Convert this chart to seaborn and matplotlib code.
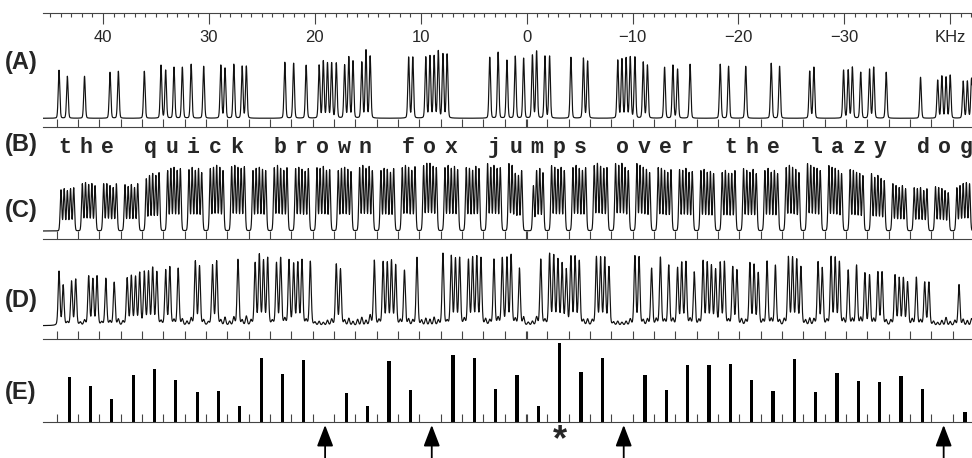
import matplotlib
matplotlib.use('Agg')
import matplotlib.pyplot as plt
import seaborn as sb
import numpy as np
import pandas as pd

message = "the quick brown fox jumps over the lazy dog"

# peak heights per character cell, 5 frequency slots per cell (high kHz -> low kHz)
heights_A = [
    [48, 0, 42, 0, 0], [0, 42, 0, 0, 0], [0, 0, 46, 0, 47], [0, 0, 0, 0, 0],
    [47, 0, 0, 0, 53], [48, 0, 51, 0, 51], [0, 54, 0, 0, 52], [0, 0, 0, 53, 50],
    [0, 54, 0, 52, 52], [0, 0, 0, 0, 0], [0, 0, 0, 56, 0], [55, 0, 0, 53, 0],
    [0, 53, 57, 55, 55], [55, 0, 53, 61, 57], [0, 56, 68, 62, 0], [0, 0, 0, 0, 0],
    [0, 0, 61, 61, 0], [0, 61, 62, 62, 67], [64, 64, 0, 0, 0], [0, 0, 0, 0, 0],
    [0, 61, 0, 66, 0], [58, 0, 62, 0, 60], [0, 63, 67, 0, 62], [62, 0, 0, 0, 0],
    [61, 0, 0, 60, 57], [0, 0, 0, 0, 0], [0, 58, 59, 60, 61], [61, 0, 56, 53, 0],
    [0, 0, 51, 0, 53], [49, 0, 0, 54, 0], [0, 0, 0, 0, 0], [54, 0, 52, 0, 0],
    [0, 52, 0, 0, 0], [0, 0, 55, 0, 52], [0, 0, 0, 0, 0], [0, 47, 51, 0, 0],
    [0, 0, 0, 0, 48], [48, 51, 0, 46, 0], [49, 51, 0, 0, 46], [0, 0, 0, 0, 0],
    [0, 0, 41, 0, 0], [0, 38, 42, 41, 43], [0, 0, 37, 37, 40],
]
heights_C = [
    [41, 42, 40, 42, 43], [47, 48, 46, 47, 45], [47, 47, 45, 43, 47], [46, 44, 46, 43, 47],
    [52, 55, 57, 55, 58], [60, 62, 63, 60, 62], [61, 63, 60, 62, 58], [62, 63, 65, 63, 60],
    [64, 65, 63, 62, 64], [60, 62, 63, 61, 60], [63, 65, 62, 60, 63], [62, 63, 61, 59, 62],
    [63, 62, 64, 60, 61], [60, 62, 63, 61, 59], [63, 65, 62, 64, 60], [60, 62, 61, 58, 62],
    [63, 65, 63, 60, 64], [65, 67, 67, 64, 63], [63, 65, 62, 64, 61], [63, 62, 60, 64, 62],
    [67, 63, 65, 62, 63], [67, 65, 57, 55, 60], [0, 45, 60, 62, 58], [65, 63, 61, 63, 60],
    [63, 65, 62, 60, 63], [65, 67, 64, 62, 63], [67, 65, 67, 63, 60], [67, 65, 63, 61, 58],
    [63, 62, 60, 58, 61], [61, 60, 62, 58, 59], [60, 61, 58, 59, 57], [58, 60, 57, 57, 60],
    [62, 60, 58, 61, 57], [60, 62, 58, 60, 57], [63, 65, 63, 61, 58], [67, 65, 63, 62, 60],
    [65, 63, 62, 60, 57], [61, 60, 58, 57, 55], [57, 53, 55, 52, 50], [47, 45, 43, 45, 42],
    [43, 42, 43, 40, 42], [44, 43, 42, 40, 38], [43, 45, 47, 48, 47],
]
heights_D = [
    [54, 40, 3, 44, 46], [3, 5, 49, 46, 49], [3, 47, 4, 43, 6], [4, 47, 49, 48, 52],
    [53, 53, 57, 53, 4], [55, 58, 5, 57, 6], [4, 7, 64, 59, 5], [3, 60, 64, 5, 8],
    [4, 8, 66, 5, 9], [5, 62, 70, 64, 67], [4, 62, 67, 6, 65], [61, 62, 65, 5, 64],
    [3, 4, 3, 5, 6], [61, 56, 5, 7, 4], [6, 8, 5, 10, 65], [5, 63, 62, 64, 60],
    [5, 55, 6, 5, 68], [5, 7, 6, 8, 5], [72, 4, 69, 66, 67], [6, 65, 67, 68, 67],
    [6, 5, 66, 7, 67], [67, 70, 6, 57, 8], [3, 4, 8, 66, 5], [71, 69, 65, 61, 55],
    [68, 68, 64, 5, 6], [5, 68, 67, 67, 58], [3, 4, 3, 4, 6], [69, 68, 5, 6, 57],
    [6, 68, 5, 60, 6], [57, 62, 63, 6, 53], [5, 64, 62, 59, 55], [62, 63, 5, 58, 55],
    [6, 5, 62, 60, 52], [5, 64, 6, 60, 5], [6, 68, 67, 65, 58], [5, 7, 6, 63, 57],
    [5, 68, 67, 63, 6], [55, 6, 60, 7, 52], [50, 6, 53, 53, 5], [5, 50, 47, 47, 43],
    [6, 48, 5, 43, 43], [4, 3, 5, 8, 4], [5, 41, 6, 5, 7],
]
bars_E = [45, 36, 23, 47, 53, 42, 30, 31, 16, 64, 48, 62, 0, 29, 16, 61, 32, 0, 67, 64, 33, 47,
          16, 79, 50, 64, 0, 47, 32, 57, 57, 58, 42, 31, 63, 30, 49, 41, 40, 46, 33, 0, 10]
arrow_cells = [12, 17, 26, 41]
star_cell = 23

ruler_ticks = [40, 30, 20, 10, 0, -10, -20, -30, -40]
ruler_labels = ['40', '30', '20', '10', '0', '\u221210', '\u221220', '\u221230', 'KHz']

# frequency layout (kHz)
XLIM = (45.67, -42.05)
n_cells = len(message)
cell_centers = 43.37 - 2.014 * np.arange(n_cells)
cell_edges = cell_centers + 1.007
freq = np.linspace(XLIM[0], XLIM[1], 12000)

W, H = 972, 458


def spectrum(heights, spacing, sigma, gamma, eta):
    offsets = np.array([2, 1, 0, -1, -2]) * spacing
    y = np.zeros_like(freq)
    for c, cell in enumerate(heights):
        for s, h in enumerate(cell):
            if h:
                d = freq - (cell_centers[c] + offsets[s])
                y += h * (eta / (1 + (d / gamma) ** 2) + (1 - eta) * np.exp(-d ** 2 / (2 * sigma ** 2)))
    return y


def panel(top, bottom):
    return fig.add_axes([43 / W, 1 - bottom / H, (W - 43) / W, (bottom - top) / H])


def scale_axis(ax):
    for s in ['top', 'left', 'right']:
        ax.spines[s].set_visible(False)
    ax.spines['bottom'].set_color('#444444')
    ax.spines['bottom'].set_linewidth(0.8)
    ax.set_yticks([])
    ax.set_xticks(list(cell_edges) + [0.0])
    ax.set_xticklabels([])
    ax.tick_params(axis='x', bottom=True, direction='in', length=5.5, width=0.8, color='#444444')
    ax.set_xlim(*XLIM)
    ax.set_xlabel('')
    ax.set_ylabel('')
    ax.patch.set_alpha(0)


sb.set_style('white')
plt.rcParams['font.family'] = ['Liberation Sans', 'DejaVu Sans']
plt.rcParams['mathtext.fontset'] = 'custom'
plt.rcParams['mathtext.bf'] = 'Liberation Sans:bold'

fig = plt.figure(figsize=(W / 100, H / 100), dpi=100)

# top ruler
axR = panel(12, 13)
for s in ['top', 'left', 'right']:
    axR.spines[s].set_visible(False)
axR.spines['bottom'].set_color('#444444')
axR.spines['bottom'].set_linewidth(0.8)
axR.set_xlim(*XLIM)
axR.set_yticks([])
axR.set_xticks(ruler_ticks)
axR.set_xticklabels(ruler_labels, fontsize=12)
axR.set_xticks(np.arange(-42, 46), minor=True)
axR.tick_params(axis='x', which='major', bottom=True, direction='out', length=8, width=0.8,
                color='#444444', pad=4)
axR.tick_params(axis='x', which='minor', bottom=True, direction='out', length=3, width=0.8,
                color='#444444')
axR.patch.set_alpha(0)

# (A)
axA = panel(45, 127)
sb.lineplot(x=freq, y=spectrum(heights_A, 0.394, 0.075, 0.08, 0.15), ax=axA, color='#111111',
            lw=0.85, estimator=None, sort=False)
axA.set_ylim(-8.7, 73.3)
scale_axis(axA)

# (B)
axB = panel(127, 160)
axB.axis('off')
axB.set_xlim(*XLIM)
axB.set_ylim(0, 1)
for i, ch in enumerate(message):
    if ch != ' ':
        axB.text(43.6 - 2.0264 * i, 7 / 33, ch, ha='center', va='baseline', fontsize=15.5,
                 fontweight='bold', family='Liberation Mono')

# (C)
axC = panel(160, 239)
sb.lineplot(x=freq, y=spectrum(heights_C, 0.3, 0.075, 0.06, 0.1), ax=axC, color='#111111',
            lw=0.85, estimator=None, sort=False)
axC.set_ylim(-8, 71)
scale_axis(axC)

# (D)
axD = panel(239, 339)
sb.lineplot(x=freq, y=spectrum(heights_D, 0.394, 0.085, 0.09, 0.25), ax=axD, color='#111111',
            lw=0.85, estimator=None, sort=False)
axD.set_ylim(-13.3, 86.7)
scale_axis(axD)

# (E)
axE = panel(339, 458)
dfE = pd.DataFrame({'freq': cell_centers - 0.17, 'value': bars_E})
sb.barplot(data=dfE, x='freq', y='value', native_scale=True, width=0.15, color='black',
           saturation=1, errorbar=None, ax=axE, linewidth=0)
axE.set_ylim(-36, 83)
scale_axis(axE)
axE.spines['bottom'].set_position(('data', 0))
for c in arrow_cells:
    axE.annotate('', xy=(cell_centers[c] - 0.17, -3), xytext=(cell_centers[c] - 0.17, -36),
                 annotation_clip=False,
                 arrowprops=dict(arrowstyle='-|>,head_length=0.65,head_width=0.25', color='black',
                                 lw=1.3, mutation_scale=20, shrinkA=0, shrinkB=0))
axE.text(cell_centers[star_cell] - 0.17, -35.5, r'$\mathbf{*}$', ha='center', va='bottom',
         fontsize=26)

for lab, yc in [('(A)', 62), ('(B)', 145), ('(C)', 210), ('(D)', 300), ('(E)', 393)]:
    fig.text(5 / W, 1 - yc / H, lab, ha='left', va='center', fontsize=17, fontweight='bold')

fig.savefig('out.png', dpi=100)
